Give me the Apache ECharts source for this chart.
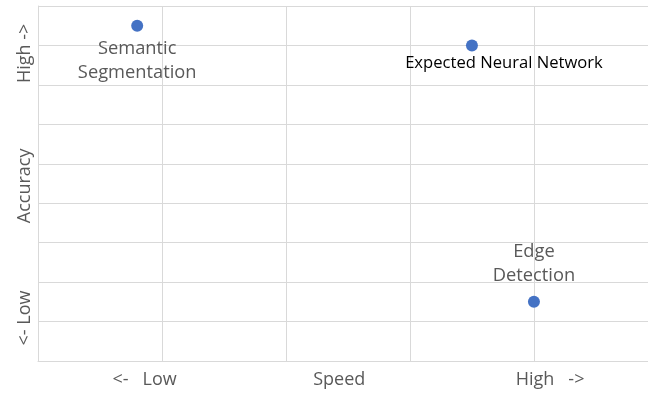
<!DOCTYPE html>
<html>
<head>
<meta charset="utf-8">
<script src="https://cdn.jsdelivr.net/npm/echarts@6/dist/echarts.min.js"></script>
<style>html,body{margin:0;padding:0;background:#fff}#c{width:648px;height:394px}</style>
</head>
<body>
<div id="c"></div>
<script>
const pointNames = ['Semantic\nSegmentation', 'Expected Neural Network', 'Edge\nDetection'];
const speed = [0.8, 3.5, 4.0];
const accuracy = [8.5, 8.0, 1.5];
const xLabelTexts = ['<-   Low', 'Speed', 'High   ->'];
const xLabelValues = [0.86, 2.43, 4.13];
const yLabelTexts = ['<- Low', 'Accuracy', 'High ->'];
const yLabelValues = [1.09, 4.44, 7.8];

const FONT = 'Open Sans';
const GRAY = '#595959';
const GRID = '#d9d9d9';

function lookup(values, texts, v) {
  let best = 0;
  for (let i = 1; i < values.length; i++) {
    if (Math.abs(values[i] - v) < Math.abs(values[best] - v)) best = i;
  }
  return Math.abs(values[best] - v) < 0.05 ? texts[best] : '';
}

const labelStyles = [
  {position: 'bottom', distance: 5, color: GRAY, fontSize: 18.3, lineHeight: 24, align: 'center'},
  {position: 'bottom', distance: 3, color: '#000', fontSize: 16.6, offset: [32, 0]},
  {position: 'top', distance: 8, color: GRAY, fontSize: 18.3, lineHeight: 24, align: 'center'}
];

const data = speed.map((s, i) => ({
  name: pointNames[i],
  value: [s, accuracy[i]],
  label: Object.assign({show: true, formatter: '{b}', fontFamily: FONT}, labelStyles[i])
}));

const chart = echarts.init(document.getElementById('c'), null, {renderer: 'canvas'});
chart.setOption({
  animation: false,
  grid: {left: 38, right: 0, top: 6, bottom: 33, containLabel: false},
  xAxis: {
    type: 'value', min: 0, max: 4.92, interval: 1,
    axisLine: {show: true, lineStyle: {color: GRID, width: 1}},
    axisTick: {show: false},
    splitLine: {show: true, showMaxLine: false, lineStyle: {color: GRID, width: 1}},
    axisLabel: {
      customValues: xLabelValues,
      showMinLabel: true, showMaxLabel: true, hideOverlap: false,
      formatter: v => lookup(xLabelValues, xLabelTexts, v),
      color: GRAY, fontSize: 18, fontFamily: FONT, margin: 10
    }
  },
  yAxis: {
    type: 'value', min: 0, max: 9, interval: 1,
    axisLine: {show: true, lineStyle: {color: GRID, width: 1}},
    axisTick: {show: false},
    splitLine: {show: true, lineStyle: {color: GRID, width: 1}},
    axisLabel: {
      customValues: yLabelValues,
      showMinLabel: true, showMaxLabel: true, hideOverlap: false,
      formatter: v => lookup(yLabelValues, yLabelTexts, v),
      rotate: 90,
      color: GRAY, fontSize: 18, fontFamily: FONT, margin: 4
    }
  },
  series: [{
    type: 'scatter',
    symbol: 'circle',
    symbolSize: 12,
    itemStyle: {color: '#4472C4', opacity: 1},
    data: data
  }]
});
</script>
</body>
</html>
